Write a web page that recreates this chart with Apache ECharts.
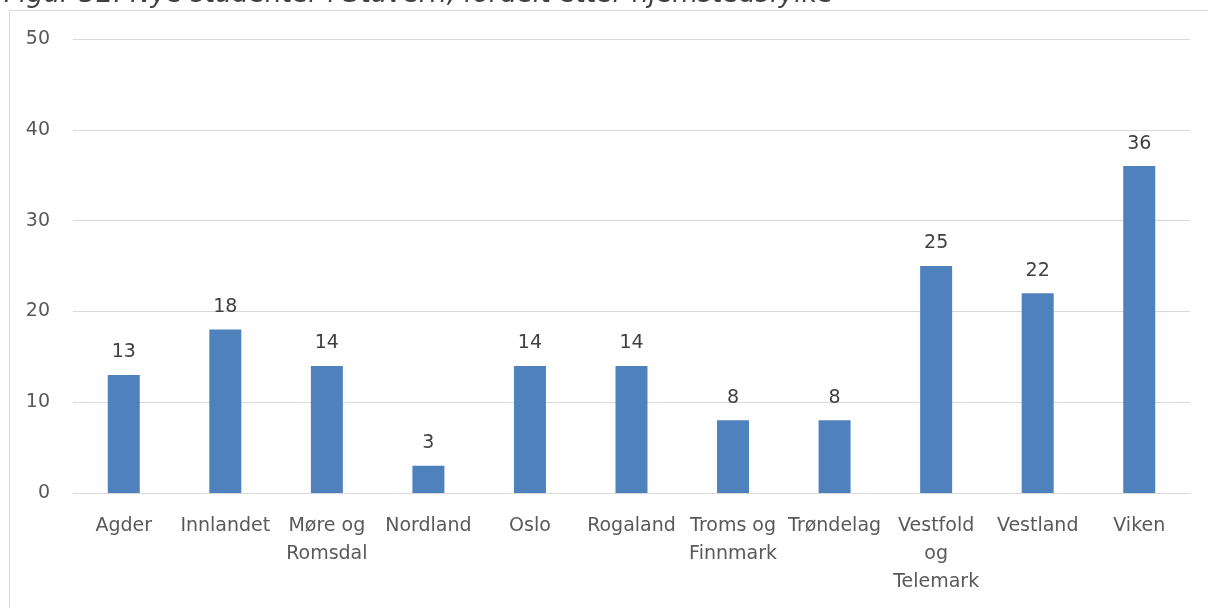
<!DOCTYPE html>
<html>
<head>
<meta charset="utf-8">
<script src="https://cdn.jsdelivr.net/npm/echarts@6/dist/echarts.min.js"></script>
<style>
  html, body { margin: 0; padding: 0; background: #fff; }
  #chart { width: 1208px; height: 608px; }
</style>
</head>
<body>
<div id="chart"></div>
<script>
const title = 'Figur 32: Nye studenter i Stavern, fordelt etter hjemstedsfylke'
const fylker = ['Agder', 'Innlandet', 'Møre og\nRomsdal', 'Nordland', 'Oslo', 'Rogaland',
  'Troms og\nFinnmark', 'Trøndelag', 'Vestfold\nog\nTelemark', 'Vestland', 'Viken']
const studenter = [13, 18, 14, 3, 14, 14, 8, 8, 25, 22, 36]

const textColor = '#595959'
const font = 'DejaVu Sans'

const chart = echarts.init(document.getElementById('chart'))
chart.setOption({
  animation: false,
  title: {
    text: title,
    left: -1,
    top: -23,
    textStyle: { fontFamily: font, fontStyle: 'italic', fontWeight: 'normal', fontSize: 26.5, color: '#404040' }
  },
  graphic: [
    { type: 'line', shape: { x1: 9.5, y1: 10.5, x2: 1208, y2: 10.5 }, style: { stroke: '#d9d9d9', lineWidth: 1 } },
    { type: 'line', shape: { x1: 9.5, y1: 10.5, x2: 9.5, y2: 608 }, style: { stroke: '#d9d9d9', lineWidth: 1 } }
  ],
  grid: { left: 73, right: 18, top: 39, bottom: 115 },
  xAxis: {
    type: 'category',
    data: fylker,
    axisLine: { lineStyle: { color: '#d9d9d9', width: 1 } },
    axisTick: { show: false },
    axisLabel: {
      interval: 0,
      margin: 19,
      lineHeight: 28,
      fontFamily: font,
      fontSize: 19,
      color: textColor
    }
  },
  yAxis: {
    type: 'value',
    min: 0,
    max: 50,
    interval: 10,
    axisLine: { show: false },
    axisTick: { show: false },
    splitLine: { lineStyle: { color: '#d9d9d9', width: 1 } },
    axisLabel: { margin: 23, fontFamily: font, fontSize: 19, color: textColor }
  },
  series: [{
    type: 'bar',
    data: studenter,
    barWidth: 32,
    itemStyle: { color: '#4f81bd' },
    label: {
      show: true,
      position: 'top',
      distance: 13,
      fontFamily: font,
      fontSize: 19,
      color: '#404040'
    }
  }]
})
</script>
</body>
</html>
